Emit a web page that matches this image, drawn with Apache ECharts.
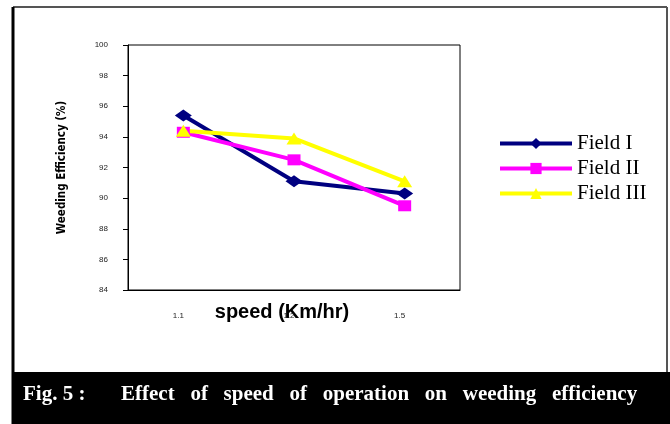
<!DOCTYPE html>
<html>
<head>
<meta charset="utf-8">
<script src="https://cdn.jsdelivr.net/npm/echarts@6/dist/echarts.min.js"></script>
<style>
  html, body { margin: 0; padding: 0; background: #fff; }
  #main { width: 670px; height: 424px; }
</style>
</head>
<body>
<div id="main"></div>
<script>
// speed categories (Km/hr)
var speeds = ['1.1', '1.2', '1.5'];
// weeding efficiency (%) per field
var field1 = [95.4, 91.1, 90.3];
var field2 = [94.3, 92.5, 89.5];
var field3 = [94.4, 93.9, 91.1];
var seriesNames = ['Field I', 'Field II', 'Field III'];

var chart = echarts.init(document.getElementById('main'));

var option = {
  backgroundColor: '#fff',
  animation: false,
  grid: {
    left: 128,
    right: 210,
    top: 45,
    bottom: 134,
    show: true,
    borderColor: '#000',
    borderWidth: 1
  },
  legend: {
    orient: 'vertical',
    left: 498,
    top: 133,
    padding: 0,
    itemWidth: 72,
    itemHeight: 14,
    itemGap: 4,
    data: seriesNames,
    lineStyle: { width: 4 },
    textStyle: {
      fontFamily: 'Liberation Serif',
      fontSize: 21,
      color: '#000'
    }
  },
  xAxis: {
    type: 'category',
    data: speeds,
    boundaryGap: true,
    name: 'speed (Km/hr)',
    nameLocation: 'middle',
    nameGap: 12,
    nameMoveOverlap: false,
    nameTextStyle: {
      fontFamily: 'Liberation Sans',
      fontWeight: 'bold',
      fontSize: 20,
      color: '#000',
      padding: [0, 24, 0, 0]
    },
    axisLine: { lineStyle: { color: '#000', width: 1 } },
    axisTick: { length: 3, inside: true, lineStyle: { color: '#000' } },
    axisLabel: {
      margin: 22,
      fontSize: 8,
      fontFamily: 'Liberation Sans',
      color: '#222',
      padding: [0, 10, 0, 0]
    }
  },
  yAxis: {
    type: 'value',
    min: 84,
    max: 100,
    interval: 2,
    name: 'Weeding Efficiency (%)',
    nameLocation: 'middle',
    nameRotate: 90,
    nameGap: 60,
    nameTextStyle: {
      fontFamily: 'DejaVu Sans Condensed',
      fontWeight: 'bold',
      fontSize: 11.5,
      color: '#000'
    },
    splitLine: { show: false },
    axisLine: { show: true, lineStyle: { color: '#000', width: 1 } },
    axisTick: { show: true, length: 5, lineStyle: { color: '#000' } },
    axisLabel: {
      margin: 20,
      fontSize: 8,
      fontFamily: 'Liberation Sans',
      color: '#222'
    }
  },
  graphic: [
    { type: 'line', shape: { x1: 13, y1: 7, x2: 667, y2: 7 }, style: { stroke: '#555', lineWidth: 2 } },
    { type: 'line', shape: { x1: 13, y1: 7, x2: 13, y2: 424 }, style: { stroke: '#000', lineWidth: 3 } },
    { type: 'line', shape: { x1: 667, y1: 7, x2: 667, y2: 372 }, style: { stroke: '#555', lineWidth: 2 } },
    { type: 'rect', shape: { x: 12, y: 372, width: 658, height: 52 }, style: { fill: '#000' } },
    {
      type: 'text', left: 23, top: 384,
      style: {
        text: 'Fig. 5 :',
        fill: '#fff',
        font: 'bold 21px "Liberation Serif"'
      }
    },
    {
      type: 'text', left: 121, top: 384,
      style: {
        text: 'Effect   of   speed   of   operation   on   weeding   efficiency',
        fill: '#fff',
        font: 'bold 21px "Liberation Serif"'
      }
    }
  ],
  series: [
    {
      name: seriesNames[0], type: 'line', data: field1,
      color: '#000080',
      lineStyle: { width: 4, color: '#000080' },
      symbol: 'diamond', symbolSize: [17, 12],
      itemStyle: { color: '#000080' }
    },
    {
      name: seriesNames[1], type: 'line', data: field2,
      color: '#ff00ff',
      lineStyle: { width: 4, color: '#ff00ff' },
      symbol: 'rect', symbolSize: [13, 11],
      itemStyle: { color: '#ff00ff' }
    },
    {
      name: seriesNames[2], type: 'line', data: field3,
      color: '#ffff00',
      lineStyle: { width: 4, color: '#ffff00' },
      symbol: 'triangle', symbolSize: [15, 12],
      itemStyle: { color: '#ffff00' }
    }
  ]
};

chart.setOption(option);
</script>
</body>
</html>
